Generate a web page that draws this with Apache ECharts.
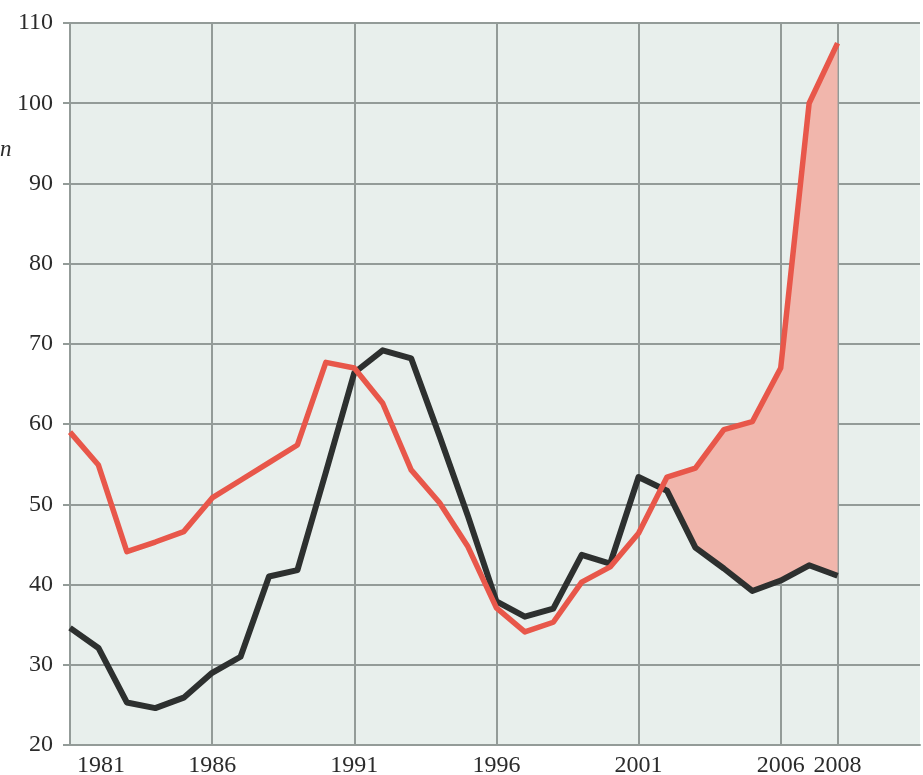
<!DOCTYPE html>
<html>
<head>
<meta charset="utf-8">
<script src="https://cdn.jsdelivr.net/npm/echarts@6/dist/echarts.min.js"></script>
<style>
  html, body { margin: 0; padding: 0; background: #ffffff; }
  #chart { width: 923px; height: 775px; }
</style>
</head>
<body>
<div id="chart"></div>
<script>
// one value per year, 1981..2008
var years = [1981, 1982, 1983, 1984, 1985, 1986, 1987, 1988, 1989, 1990,
             1991, 1992, 1993, 1994, 1995, 1996, 1997, 1998, 1999, 2000,
             2001, 2002, 2003, 2004, 2005, 2006, 2007, 2008];
var blackValues = [34.6, 32.1, 25.3, 24.6, 25.9, 29.0, 31.0, 41.0, 41.8, 54.0,
                   66.4, 69.2, 68.2, 58.5, 48.5, 37.9, 36.0, 37.0, 43.7, 42.6,
                   53.4, 51.7, 44.6, 42.0, 39.2, 40.5, 42.4, 41.1];
var redValues = [59.0, 54.9, 44.1, 45.3, 46.6, 50.8, 53.0, 55.2, 57.4, 67.7,
                 67.0, 62.6, 54.3, 50.2, 44.7, 37.1, 34.1, 35.3, 40.3, 42.2,
                 46.4, 53.4, 54.5, 59.3, 60.3, 67.0, 100.0, 107.5];
var xTicks = [1981, 1986, 1991, 1996, 2001, 2006, 2008];
var fillFrom = 2001; // shaded gap between the lines starts after this year

function pairs(vals) {
    var out = [];
    for (var i = 0; i < years.length; i++) out.push([years[i], vals[i]]);
    return out;
}

// polygon between red (top) and black (bottom) from where they cross
function gapPolygon(params, api) {
    var i0 = years.indexOf(fillFrom);
    var d0 = redValues[i0] - blackValues[i0];
    var d1 = redValues[i0 + 1] - blackValues[i0 + 1];
    var t = d0 / (d0 - d1);
    var cx = years[i0] + t * (years[i0 + 1] - years[i0]);
    var cy = blackValues[i0] + t * (blackValues[i0 + 1] - blackValues[i0]);
    var pts = [api.coord([cx, cy])];
    for (var i = i0 + 1; i < years.length; i++) pts.push(api.coord([years[i], redValues[i]]));
    for (var j = years.length - 1; j > i0; j--) pts.push(api.coord([years[j], blackValues[j]]));
    return {
        type: 'polygon',
        shape: { points: pts },
        style: { fill: '#f1b6ac' }
    };
}

var gridColor = '#939b98';
var textColor = '#2b2b2b';
var serif = '"Liberation Serif", "DejaVu Serif", serif';

var chart = echarts.init(document.getElementById('chart'), null, { renderer: 'canvas' });
var option = {
    backgroundColor: '#ffffff',
    animation: false,
    grid: {
        left: 70, right: 3, top: 23, bottom: 30,
        outerBoundsMode: 'none',
        containLabel: false,
        show: true, backgroundColor: '#e8efec', borderWidth: 0
    },
    graphic: [{
        type: 'text', left: 0, top: 138,
        style: { text: 'n', font: 'italic 23px ' + serif, fill: textColor }
    }],
    xAxis: {
        type: 'value',
        min: 1981,
        max: 2010.9,
        axisLine: { show: true, lineStyle: { color: gridColor, width: 2 } },
        axisTick: { show: false, customValues: xTicks },
        splitLine: { show: true, lineStyle: { color: gridColor, width: 2 } },
        axisLabel: {
            customValues: xTicks,
            margin: 9,
            color: textColor,
            fontFamily: serif,
            fontSize: 24,
            formatter: function (v) {
                return v === 1981 ? '{first|1981}' : String(v);
            },
            rich: {
                first: { padding: [0, 0, 0, 62], fontFamily: serif, fontSize: 24, color: textColor }
            }
        }
    },
    yAxis: {
        type: 'value',
        min: 20,
        max: 110,
        interval: 10,
        axisLine: { show: true, lineStyle: { color: gridColor, width: 2 } },
        axisTick: { show: true, length: 7, lineStyle: { color: gridColor, width: 2 } },
        splitLine: { show: true, lineStyle: { color: gridColor, width: 2 } },
        axisLabel: {
            margin: 17,
            color: textColor,
            fontFamily: serif,
            fontSize: 24
        }
    },
    series: [
        {
            type: 'custom',
            renderItem: gapPolygon,
            data: [0],
            z: 1,
            silent: true
        },
        {
            name: 'black',
            type: 'line',
            data: pairs(blackValues),
            showSymbol: false,
            z: 3,
            lineStyle: { color: '#2d302f', width: 6, join: 'round' }
        },
        {
            name: 'red',
            type: 'line',
            data: pairs(redValues),
            showSymbol: false,
            z: 4,
            lineStyle: { color: '#e8574a', width: 5.5, join: 'round' }
        }
    ]
};
chart.setOption(option);
</script>
</body>
</html>
